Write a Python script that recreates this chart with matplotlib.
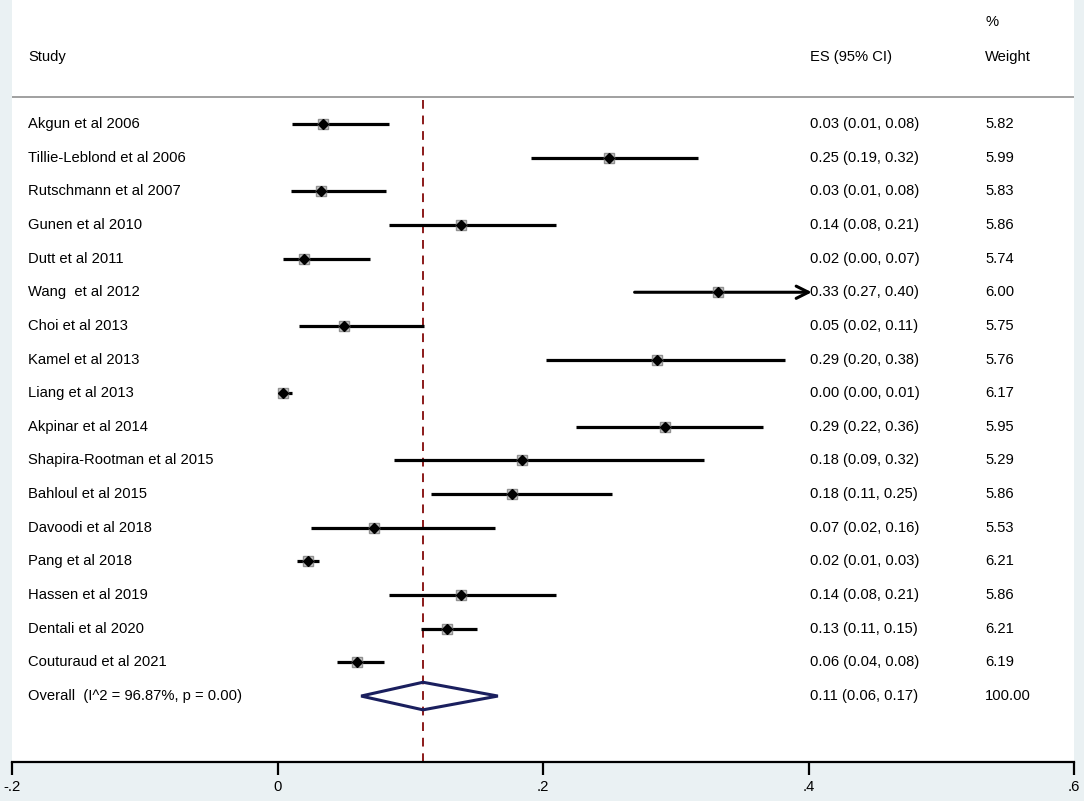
import matplotlib.pyplot as plt
import numpy as np

plt.rcParams['font.family'] = ['Liberation Sans', 'DejaVu Sans']

# study data (ES and CI, text from the table)
studies = ['Akgun et al 2006', 'Tillie-Leblond et al 2006', 'Rutschmann et al 2007',
           'Gunen et al 2010', 'Dutt et al 2011', 'Wang  et al 2012', 'Choi et al 2013',
           'Kamel et al 2013', 'Liang et al 2013', 'Akpinar et al 2014',
           'Shapira-Rootman et al 2015', 'Bahloul et al 2015', 'Davoodi et al 2018',
           'Pang et al 2018', 'Hassen et al 2019', 'Dentali et al 2020', 'Couturaud et al 2021']
es = [0.034, 0.250, 0.033, 0.138, 0.020, 0.332, 0.050, 0.286, 0.0045, 0.292,
      0.184, 0.177, 0.073, 0.023, 0.138, 0.128, 0.060]
lo = [0.011, 0.191, 0.010, 0.084, 0.004, 0.269, 0.016, 0.202, 0.000, 0.225,
      0.088, 0.116, 0.025, 0.015, 0.084, 0.108, 0.045]
hi = [0.084, 0.317, 0.082, 0.210, 0.070, 0.402, 0.110, 0.382, 0.011, 0.366,
      0.321, 0.252, 0.164, 0.031, 0.210, 0.150, 0.080]
es_text = ['0.03 (0.01, 0.08)', '0.25 (0.19, 0.32)', '0.03 (0.01, 0.08)', '0.14 (0.08, 0.21)',
           '0.02 (0.00, 0.07)', '0.33 (0.27, 0.40)', '0.05 (0.02, 0.11)', '0.29 (0.20, 0.38)',
           '0.00 (0.00, 0.01)', '0.29 (0.22, 0.36)', '0.18 (0.09, 0.32)', '0.18 (0.11, 0.25)',
           '0.07 (0.02, 0.16)', '0.02 (0.01, 0.03)', '0.14 (0.08, 0.21)', '0.13 (0.11, 0.15)',
           '0.06 (0.04, 0.08)']
weights = ['5.82', '5.99', '5.83', '5.86', '5.74', '6.00', '5.75', '5.76', '6.17', '5.95',
           '5.29', '5.86', '5.53', '6.21', '5.86', '6.21', '6.19']
overall_label = 'Overall  (I^2 = 96.87%, p = 0.00)'
overall_es, overall_lo, overall_hi = 0.1096, 0.063, 0.166
overall_text = '0.11 (0.06, 0.17)'
overall_weight = '100.00'
xticks = [-0.2, 0, 0.2, 0.4, 0.6]
xticklabels = ['-.2', '0', '.2', '.4', '.6']

fig = plt.figure(figsize=(10.84, 8.01), dpi=100)
fig.patch.set_facecolor('#eaf1f3')
ax = fig.add_axes([12/1084, 39/801, 1062/1084, 762/801])
ax.set_facecolor('white')
ax.set_xlim(-0.2, 0.6)
ax.set_ylim(18.96, -3.685)

fs = 10.6
x_study, x_es, x_w = -0.188, 0.4013, 0.533

# header
ax.text(x_study, -1.99, 'Study', fontsize=fs, va='center')
ax.text(x_es, -1.99, 'ES (95% CI)', fontsize=fs, va='center')
ax.text(x_w, -1.99, 'Weight', fontsize=fs, va='center')
ax.text(x_w, -3.03, '%', fontsize=fs, va='center')
ax.axhline(-0.80, color='#999999', lw=1.3)

n = len(studies)
for i in range(n):
    ax.text(x_study, i, studies[i], fontsize=fs, va='center')
    ax.text(x_es, i, es_text[i], fontsize=fs, va='center')
    ax.text(x_w, i, weights[i], fontsize=fs, va='center')
    if hi[i] > 0.4:
        ax.annotate('', xy=(0.4025, i), xytext=(lo[i], i),
                    arrowprops=dict(arrowstyle='->', lw=2.2, color='black',
                                    mutation_scale=22, shrinkA=0, shrinkB=0))
    else:
        ax.plot([lo[i], hi[i]], [i, i], color='black', lw=2.3, solid_capstyle='butt', zorder=3)
    ax.plot(es[i], i, marker='s', ms=6.5, mfc='#c8c8c8', mec='#909090', mew=1.0, ls='none', zorder=4)
    ax.plot(es[i], i, marker='D', ms=5.0, color='black', ls='none', zorder=5)

# overall
ax.text(x_study, n, overall_label, fontsize=fs, va='center')
ax.text(x_es, n, overall_text, fontsize=fs, va='center')
ax.text(x_w, n, overall_weight, fontsize=fs, va='center')
h = 0.41
ax.fill([overall_lo, overall_es, overall_hi, overall_es, overall_lo],
        [n, n - h, n, n + h, n], facecolor='none', edgecolor='#1a1f5e', lw=2.2, zorder=4)
ax.plot([overall_es, overall_es], [-0.71, 18.96], color='#8b1a1a', lw=1.4,
        ls=(0, (4.5, 3.5)), zorder=2)

for s in ['top', 'left', 'right']:
    ax.spines[s].set_visible(False)
ax.spines['bottom'].set_linewidth(1.6)
ax.set_yticks([])
ax.set_xticks(xticks)
ax.set_xticklabels(xticklabels, fontsize=fs)
ax.tick_params(axis='x', length=9, width=1.6, pad=4)

fig.savefig('out.png', dpi=100, facecolor=fig.get_facecolor())
